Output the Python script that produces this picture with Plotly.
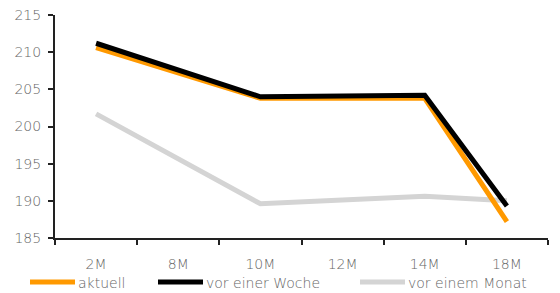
import plotly.graph_objects as go

categories = ["2M", "8M", "10M", "12M", "14M", "18M"]
aktuell = [210.6, None, 203.8, None, 203.8, 187.2]
vor_einer_woche = [211.2, None, 204.0, None, 204.2, 189.3]
vor_einem_monat = [201.7, None, 189.6, None, 190.6, 190.0]
y_ticks = [185, 190, 195, 200, 205, 210, 215]

series_names = ["aktuell", "vor einer Woche", "vor einem Monat"]
series_colors = ["#ff9900", "#000000", "#d4d4d4"]

fig = go.Figure()
for name, vals, col in [(series_names[2], vor_einem_monat, series_colors[2]),
                        (series_names[0], aktuell, series_colors[0]),
                        (series_names[1], vor_einer_woche, series_colors[1])]:
    fig.add_trace(go.Scatter(x=categories, y=vals, mode="lines", name=name,
                             line=dict(color=col, width=5), connectgaps=True, showlegend=False))

font = dict(family="DejaVu Sans, sans-serif", size=14, color="#666666", weight=200)
W, H = 560, 293
OFF = 8  # page offset of the figure in the screenshot
# plot area in screenshot pixels: x 55..548, y 15..238
L = 55 - OFF
R = W - (548 - OFF)
T = 15 - OFF
B = H - (238 - OFF)
pw = W - L - R
ph = H - T - B

def px_x(px):
    return (px - OFF - L) / pw

def px_y(py):
    return (H - B - (py - OFF)) / ph

# legend (drawn in paper coordinates, positions in screenshot pixels)
legend_pos = [(30, 75, 77), (158, 203, 205), (360, 405, 407)]
legend_y = 282
shapes = []
annotations = []
for (x0, x1, tx), name, col in zip(legend_pos, series_names, series_colors):
    shapes.append(dict(type="line", xref="paper", yref="paper",
                       x0=px_x(x0), x1=px_x(x1), y0=px_y(legend_y), y1=px_y(legend_y),
                       line=dict(color=col, width=5)))
    annotations.append(dict(xref="paper", yref="paper", x=px_x(tx), y=px_y(legend_y + 0.5),
                            xanchor="left", yanchor="middle", text=name, showarrow=False,
                            font=font, borderpad=0))

fig.update_layout(
    width=W, height=H,
    margin=dict(l=L, r=R, t=T, b=B, autoexpand=False),
    paper_bgcolor="white", plot_bgcolor="white",
    font=font,
    showlegend=False,
    hovermode=False,
    shapes=shapes,
    annotations=annotations,
    xaxis=dict(type="category", categoryorder="array", categoryarray=categories,
               range=[-0.5, 5.5], automargin=False, ticklabeloverflow="allow",
               showgrid=False, zeroline=False, showline=True, linecolor="#222222", linewidth=2,
               ticks="outside", ticklen=5, tickwidth=2, tickcolor="#222222",
               tickson="boundaries", ticklabelstandoff=12, tickfont=font),
    yaxis=dict(range=[185, 215], tickvals=y_ticks, showgrid=False, zeroline=False,
               automargin=False, ticklabeloverflow="allow",
               showline=True, linecolor="#222222", linewidth=2, ticklabelstandoff=4,
               ticks="outside", ticklen=5, tickwidth=2, tickcolor="#222222", tickfont=font),
)

fig.write_html("out.html")
